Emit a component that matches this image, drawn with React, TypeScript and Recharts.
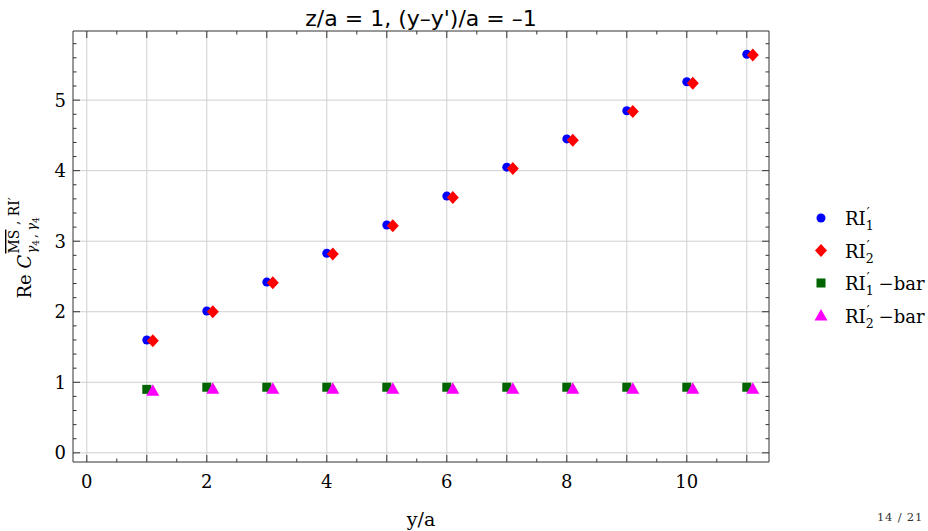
import { ScatterChart, Scatter, XAxis, YAxis, CartesianGrid, Legend } from "recharts";

// separations y/a, and the same shifted by 0.1 for the second estimator
const positions = [1, 2, 3, 4, 5, 6, 7, 8, 9, 10, 11];
const positionsShifted = [1.1, 2.1, 3.1, 4.1, 5.1, 6.1, 7.1, 8.1, 9.1, 10.1, 11.1];

// Re C values
const ri1 = [1.6, 2.01, 2.42, 2.83, 3.23, 3.64, 4.05, 4.45, 4.85, 5.26, 5.65];
const ri2 = [1.59, 2.0, 2.41, 2.82, 3.22, 3.62, 4.03, 4.43, 4.84, 5.24, 5.64];
const ri1Bar = [0.9, 0.93, 0.93, 0.93, 0.93, 0.93, 0.93, 0.93, 0.93, 0.93, 0.93];
const ri2Bar = [0.88, 0.91, 0.91, 0.91, 0.91, 0.91, 0.91, 0.91, 0.91, 0.91, 0.91];

const xTicks = [0, 0.5, 1, 1.5, 2, 2.5, 3, 3.5, 4, 4.5, 5, 5.5, 6, 6.5, 7, 7.5, 8, 8.5, 9, 9.5, 10, 10.5, 11];
const xTickLabels = [0, 2, 4, 6, 8, 10];
const xGrid = [0, 1, 2, 3, 4, 5, 6, 7, 8, 9, 10, 11];
const yTicks = [
  0, 0.2, 0.4, 0.6, 0.8, 1, 1.2, 1.4, 1.6, 1.8, 2, 2.2, 2.4, 2.6, 2.8, 3, 3.2, 3.4, 3.6, 3.8, 4, 4.2, 4.4, 4.6,
  4.8, 5, 5.2, 5.4, 5.6, 5.8,
];
const yTickLabels = [0, 1, 2, 3, 4, 5];
const yGrid = [0, 1, 2, 3, 4, 5];

const xDomain = [-0.23, 11.37];
const yDomain = [-0.13, 5.98];

const toPoints = (xs: number[], ys: number[]) => xs.map((x, i) => ({ x, y: ys[i] }));

const AXIS = "#333";
const SERIF = "DejaVu Serif";

const isMajor = (v: number) => Math.abs(v - Math.round(v)) < 1e-6;

// inward ticks, drawn by hand so they point into the plot
const BottomTick = ({ x, y, payload }: any) => {
  const v = payload.value;
  return (
    <g>
      <line x1={x} x2={x} y1={y} y2={y - (isMajor(v) ? 7 : 3.5)} stroke={AXIS} />
      {xTickLabels.includes(v) && (
        <text x={x} y={y + 26} textAnchor="middle" fontFamily={SERIF} fontSize={18} fill="#000">
          {v}
        </text>
      )}
    </g>
  );
};

const TopTick = ({ x, y, payload }: any) => (
  <line x1={x} x2={x} y1={y} y2={y + (isMajor(payload.value) ? 7 : 3.5)} stroke={AXIS} />
);

const LeftTick = ({ x, y, payload }: any) => {
  const v = payload.value;
  return (
    <g>
      <line x1={x} x2={x + (isMajor(v) ? 7 : 3.5)} y1={y} y2={y} stroke={AXIS} />
      {yTickLabels.includes(v) && (
        <text x={x - 7} y={y + 6.5} textAnchor="end" fontFamily={SERIF} fontSize={18} fill="#000">
          {v}
        </text>
      )}
    </g>
  );
};

const RightTick = ({ x, y, payload }: any) => (
  <line x1={x} x2={x - (isMajor(payload.value) ? 7 : 3.5)} y1={y} y2={y} stroke={AXIS} />
);

const YLabel = (props: any) => {
  const vb = props.viewBox || { x: 0, y: 31, width: 73, height: 431 };
  const cx = vb.x + 31;
  const cy = vb.y + vb.height / 2 + 4;
  return (
    <text x={cx - 48} y={cy} transform={`rotate(-90 ${cx} ${cy})`} fontFamily={SERIF} fontSize={18} fill="#000">
      <tspan>Re </tspan>
      <tspan fontStyle="italic">C</tspan>
      <tspan x={cx - 3} y={cy - 12} fontSize={14} style={{ textDecoration: "overline" }}>
        MS
      </tspan>
      <tspan fontSize={14}> , RI′</tspan>
      <tspan x={cx - 3} y={cy + 5} fontSize={13} fontStyle="italic">
        γ
      </tspan>
      <tspan fontSize={9} dy={3}>
        4
      </tspan>
      <tspan fontSize={13} dy={-3} dx={2}>
        ,
      </tspan>
      <tspan fontSize={13} fontStyle="italic" dx={3}>
        γ
      </tspan>
      <tspan fontSize={9} dy={3}>
        4
      </tspan>
    </text>
  );
};

const XLabel = (props: any) => {
  const vb = props.viewBox || { x: 73, y: 462, width: 696, height: 69 };
  return (
    <text x={vb.x + vb.width / 2} y={vb.y + 64} textAnchor="middle" fontFamily={SERIF} fontSize={19} fill="#000">
      y/a
    </text>
  );
};

const Title = (props: any) => {
  const vb = props.viewBox || { x: 73, y: 0, width: 696, height: 31 };
  return (
    <text x={vb.x + vb.width / 2} y={vb.y + 26} textAnchor="middle" fontFamily="DejaVu Sans" fontSize={22} fill="#000">
      z/a = 1, (y–y')/a = –1
    </text>
  );
};

const CircleMark = ({ cx, cy, fill }: any) => <circle cx={cx} cy={cy} r={4.5} fill={fill} />;
const DiamondMark = ({ cx, cy, fill }: any) => (
  <polygon points={`${cx},${cy - 6.5} ${cx + 6},${cy} ${cx},${cy + 6.5} ${cx - 6},${cy}`} fill={fill} />
);
const SquareMark = ({ cx, cy, fill }: any) => <rect x={cx - 4.5} y={cy - 4.5} width={9} height={9} fill={fill} />;
const TriangleMark = ({ cx, cy, fill }: any) => (
  <polygon points={`${cx},${cy - 6.5} ${cx + 6.5},${cy + 5} ${cx - 6.5},${cy + 5}`} fill={fill} />
);

const series = [
  { key: "ri1", sub: "1", suffix: "", color: "#0000ff", Mark: CircleMark, xs: positions, ys: ri1 },
  { key: "ri2", sub: "2", suffix: "", color: "#ff0000", Mark: DiamondMark, xs: positionsShifted, ys: ri2 },
  { key: "ri1bar", sub: "1", suffix: "−bar", color: "#006400", Mark: SquareMark, xs: positions, ys: ri1Bar },
  { key: "ri2bar", sub: "2", suffix: "−bar", color: "#ff00ff", Mark: TriangleMark, xs: positionsShifted, ys: ri2Bar },
];

const LegendBox = () => (
  <svg width={128} height={140}>
    {series.map((s, i) => {
      const row = 23 + i * 32.5;
      const Mark = s.Mark;
      return (
        <g key={s.key}>
          <Mark cx={21} cy={row} fill={s.color} />
          <text x={45} y={row + 7} fontFamily={SERIF} fontSize={18} fill="#000">
            RI
            <tspan fontSize={12.6} dy={5}>
              {s.sub}
            </tspan>
            <tspan fontSize={12.6} dx={-7} dy={-13}>
              ′
            </tspan>
            <tspan fontSize={18} dy={8} dx={9}>
              {s.suffix}
            </tspan>
          </text>
        </g>
      );
    })}
  </svg>
);

export default function App() {
  return (
    <div style={{ position: "absolute", left: 0, top: 0, width: 928, height: 531, background: "#fff" }}>
      <ScatterChart width={928} height={531} margin={{ top: 0, right: 0, bottom: 0, left: 0 }}>
        <CartesianGrid
          xAxisId="b"
          yAxisId="l"
          stroke="#cfcfcf"
          verticalValues={xGrid}
          horizontalValues={yGrid}
        />
        <XAxis
          xAxisId="b"
          type="number"
          dataKey="x"
          domain={xDomain}
          allowDataOverflow
          ticks={xTicks}
          interval={0}
          tick={<BottomTick />}
          tickLine={false}
          tickSize={0}
          tickMargin={0}
          height={69}
          stroke={AXIS}
          label={<XLabel />}
        />
        <XAxis
          xAxisId="t"
          orientation="top"
          type="number"
          dataKey="x"
          domain={xDomain}
          allowDataOverflow
          ticks={xTicks}
          interval={0}
          tick={<TopTick />}
          tickLine={false}
          tickSize={0}
          tickMargin={0}
          height={31}
          stroke={AXIS}
          label={<Title />}
        />
        <YAxis
          yAxisId="l"
          type="number"
          dataKey="y"
          domain={yDomain}
          allowDataOverflow
          ticks={yTicks}
          interval={0}
          tick={<LeftTick />}
          tickLine={false}
          tickSize={0}
          tickMargin={0}
          width={73}
          stroke={AXIS}
          label={<YLabel />}
        />
        <YAxis
          yAxisId="r"
          orientation="right"
          type="number"
          dataKey="y"
          domain={yDomain}
          allowDataOverflow
          ticks={yTicks}
          interval={0}
          tick={<RightTick />}
          tickLine={false}
          tickSize={0}
          tickMargin={0}
          width={31}
          stroke={AXIS}
        />
        {series.map((s) => (
          <Scatter
            key={s.key}
            name={s.key}
            xAxisId="b"
            yAxisId="l"
            data={toPoints(s.xs, s.ys)}
            fill={s.color}
            shape={(p: any) => <s.Mark cx={p.cx} cy={p.cy} fill={s.color} />}
            isAnimationActive={false}
          />
        ))}
        <Legend
          layout="vertical"
          align="right"
          verticalAlign="middle"
          content={() => <LegendBox />}
          wrapperStyle={{ left: 800, top: 195, width: 128, height: 140 }}
        />
      </ScatterChart>
      <div
        style={{
          position: "absolute",
          left: 877,
          top: 510,
          fontFamily: SERIF,
          fontSize: 11.5,
          letterSpacing: 0.8,
          color: "#333",
        }}
      >
        14 / 21
      </div>
    </div>
  );
}
